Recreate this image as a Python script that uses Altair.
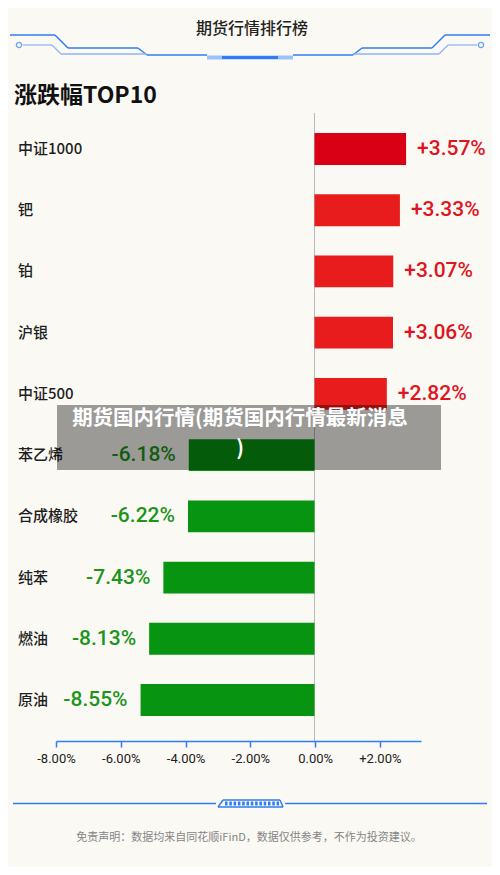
import altair as alt
import pandas as pd

# ---- data ----
categories = ["中证1000", "钯", "铂", "沪银", "中证500", "苯乙烯", "合成橡胶", "纯苯", "燃油", "原油"]
changes = [3.57, 3.33, 3.07, 3.06, 2.82, -6.18, -6.22, -7.43, -8.13, -8.55]
axis_ticks = [-8, -6, -4, -2, 0, 2]

header_text = "期货行情排行榜"
title_text = "涨跌幅TOP10"
overlay_lines = ["期货国内行情(期货国内行情最新消息", ")"]
footer_text = "免责声明：数据均来自同花顺iFinD，数据仅供参考，不作为投资建议。"

df = pd.DataFrame({"name": categories, "change": changes})
ticks_df = pd.DataFrame({"tick": axis_ticks})

# ---- style / layout ----
OFF = 8  # page margin; layout below is given in page pixels
W, H = 484, 859
BG = "#fbf9f4"
BLUE = "#2f7cf6"
LIGHT_BLUE = "#8db6f7"
RED_TOP = "#d90016"
RED = "#e81c1c"
GREEN = "#079410"
RED_TXT = "#e0141e"
GREEN_TXT = "#1c951c"
CJK = "Noto Sans CJK SC"
NUM = "Roboto"


def P(v):
    return v - OFF


bar_x = alt.Scale(domain=[-10, 0, 4], range=[P(111.1), P(314.5), P(417.1)], nice=False, zero=False)
axis_x = alt.Scale(domain=[-8, 3.27], range=[P(56), P(421)], nice=False, zero=False)
band_y = alt.Scale(domain=categories, range=[P(118.4), P(730.6)], paddingInner=0.48, paddingOuter=0.24)

one = alt.Data(values=[{}])


def seg(x1, y1, x2, y2, color=BLUE, width=1.5):
    return alt.Chart(one).mark_rule(color=color, strokeWidth=width).encode(
        x=alt.value(P(x1)), y=alt.value(P(y1)), x2=alt.value(P(x2)), y2=alt.value(P(y2))
    )


def ring(x, y):
    return alt.Chart(one).mark_point(shape="circle", size=28, filled=False, color=BLUE, strokeWidth=1.3).encode(
        x=alt.value(P(x)), y=alt.value(P(y))
    )


deco = [
    # header, left
    seg(10, 35, 55, 35), seg(55, 35, 68, 48), seg(68, 48, 138, 48), seg(138, 48, 147, 55), seg(147, 55, 207, 55),
    ring(19, 45), seg(23, 45, 52, 45, LIGHT_BLUE, 1.3), seg(52, 45, 61, 54, LIGHT_BLUE, 1.3), seg(61, 54, 147, 54, LIGHT_BLUE, 1.3),
    # header, right
    seg(445, 35, 490, 35), seg(432, 48, 445, 35), seg(362, 48, 432, 48), seg(353, 55, 362, 48), seg(293, 55, 353, 55),
    ring(481, 45), seg(448, 45, 477, 45, LIGHT_BLUE, 1.3), seg(439, 54, 448, 45, LIGHT_BLUE, 1.3), seg(353, 54, 439, 54, LIGHT_BLUE, 1.3),
    # header centre glow
    seg(207, 57.5, 293, 57.5, "#9cc2fb", 4), seg(222, 57.5, 278, 57.5, BLUE, 3),
    # footer
    seg(13, 803.5, 216, 803.5), seg(285, 803.5, 487, 803.5),
    seg(223, 800, 280, 800), seg(218, 807, 283, 807), seg(218, 807, 223, 800), seg(280, 800, 283, 807),
    alt.Chart(one).mark_rule(color=BLUE, strokeWidth=4, strokeDash=[2.5, 1.8]).encode(
        x=alt.value(P(225)), x2=alt.value(P(279)), y=alt.value(P(803.5)), y2=alt.value(P(803.5))
    ),
]

header = alt.Chart(one).mark_text(text=header_text, font=CJK, fontSize=16, fontWeight=500, color="#222222",
                                  align="center", baseline="middle").encode(x=alt.value(P(252)), y=alt.value(P(29)))
title = alt.Chart(one).mark_text(text=title_text, font=CJK, fontSize=23, fontWeight="bold", color="#111111",
                                 align="left", baseline="middle").encode(x=alt.value(P(14)), y=alt.value(P(96)))
footer = alt.Chart(one).mark_text(text=footer_text, font=CJK, fontSize=11, color="#858585",
                                  align="center", baseline="middle").encode(x=alt.value(P(249)), y=alt.value(P(838)))

zero_line = alt.Chart(one).mark_rule(color="#b9b9b9", strokeWidth=1).encode(
    x=alt.X(datum=0, scale=bar_x, axis=None), y=alt.value(P(113)), y2=alt.value(P(741))
)

base = alt.Chart(df).transform_window(
    rank="row_number()", sort=[alt.SortField("change", order="descending")]
).transform_calculate(
    tone="datum.rank == 1 ? 'lead' : (datum.change >= 0 ? 'up' : 'down')",
    label="(datum.change > 0 ? '+' : '-') + format(abs(datum.change), '.2f') + '%'",
)

bars = base.mark_bar(cornerRadius=0).encode(
    y=alt.Y("name:N", scale=band_y, axis=None),
    x=alt.X("change:Q", scale=bar_x, axis=None),
    x2=alt.datum(0),
    color=alt.Color("tone:N", scale=alt.Scale(domain=["lead", "up", "down"], range=[RED_TOP, RED, GREEN]), legend=None),
)

names = base.mark_text(font=CJK, fontSize=15, fontWeight=500, color="#1e1e1e", align="left", baseline="middle").encode(
    y=alt.Y("name:N", scale=band_y, axis=None),
    x=alt.value(P(18)),
    text="name:N",
)

pos_labels = base.transform_filter("datum.change >= 0").mark_text(
    font=NUM, fontSize=21, fontWeight=500, color=RED_TXT, align="left", baseline="middle", dx=11
).encode(
    y=alt.Y("name:N", scale=band_y, axis=None),
    x=alt.X("change:Q", scale=bar_x, axis=None),
    text="label:N",
)

neg_labels = base.transform_filter("datum.change < 0").mark_text(
    font=NUM, fontSize=21, fontWeight=500, color=GREEN_TXT, align="right", baseline="middle", dx=-13
).encode(
    y=alt.Y("name:N", scale=band_y, axis=None),
    x=alt.X("change:Q", scale=bar_x, axis=None),
    text="label:N",
)

axis_layer = alt.Chart(ticks_df).mark_point(opacity=0).encode(
    x=alt.X(
        "tick:Q",
        scale=axis_x,
        axis=alt.Axis(
            values=axis_ticks, orient="bottom", offset=-(H - P(741)), title=None, grid=False,
            domainColor=BLUE, domainWidth=1.5, tickColor=BLUE, tickWidth=1.5, tickSize=6,
            labelFont=NUM, labelFontSize=13, labelColor="#222222", labelPadding=5,
            labelOverlap=False, labelBound=False, labelFlush=False,
            labelExpr="(datum.value > 0 ? '+' : (datum.value < 0 ? '-' : '')) + format(abs(datum.value), '.2f') + '%'",
        ),
    ),
)

overlay_box = alt.Chart(one).mark_rect(color="#000000", opacity=0.38).encode(
    x=alt.value(P(57)), x2=alt.value(P(441)), y=alt.value(P(405)), y2=alt.value(P(470))
)
overlay_text = alt.Chart(one).mark_text(text=overlay_lines, font=CJK, fontSize=20.5, fontWeight="bold",
                                        color="#ffffff", align="center", baseline="top", lineHeight=30).encode(
    x=alt.value(P(240)), y=alt.value(P(409))
)

chart = alt.layer(
    *deco, header, title, zero_line, bars, names, pos_labels, neg_labels, axis_layer,
    overlay_box, overlay_text, footer,
).resolve_scale(x="independent").properties(
    width=W, height=H, autosize=alt.AutoSizeParams(type="none"), padding=0, background=BG
).configure_view(stroke=None, fill=BG)

chart.save("out.html", embed_options={"renderer": "svg", "actions": False})
